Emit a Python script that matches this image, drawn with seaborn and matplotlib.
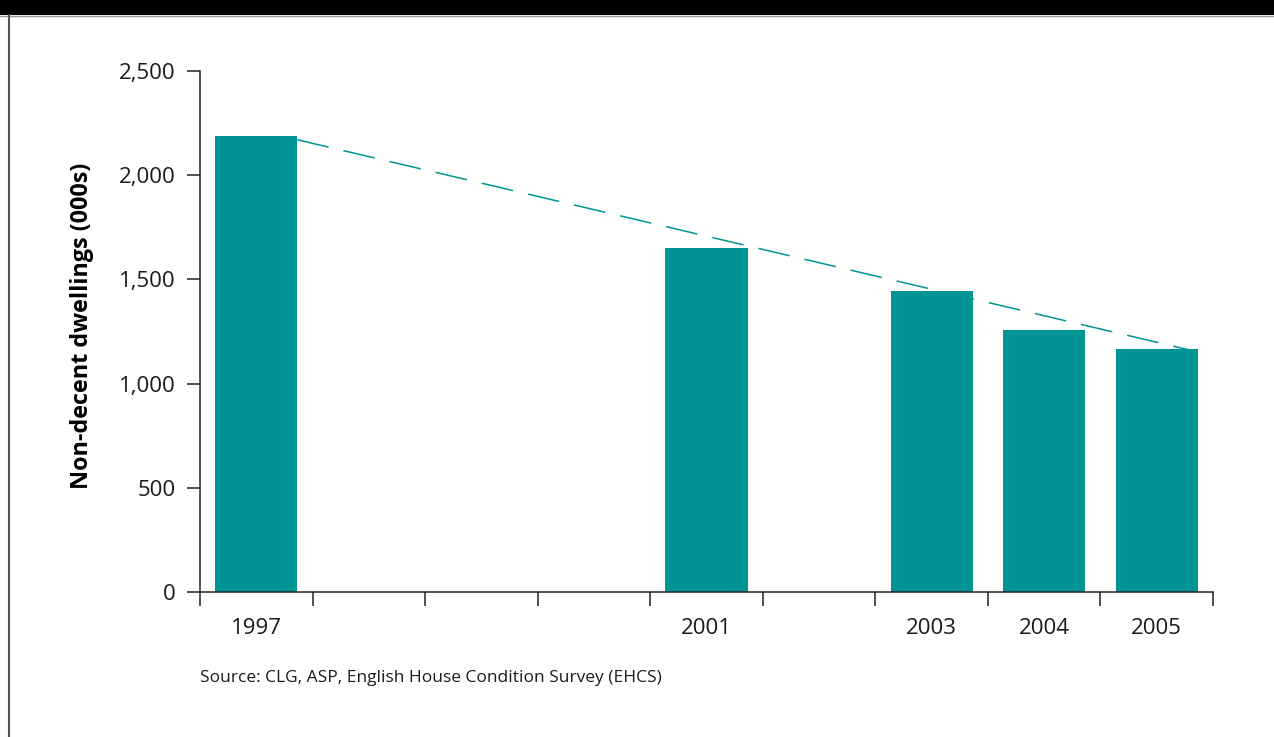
import matplotlib
matplotlib.use("Agg")
import matplotlib.pyplot as plt
from matplotlib.patches import Rectangle
from matplotlib.lines import Line2D
import seaborn as sns
import pandas as pd

# Data
years = [1997, 2001, 2003, 2004, 2005]
non_decent = [2188, 1651, 1444, 1257, 1166]

# dashed trend line (start at 1997 bar, end at 2005 bar)
trend_years = [1997, 2005]
trend_values = [2170, 1152]

year_ticks = list(range(1997, 2006))
source_text = "Source: CLG, ASP, English House Condition Survey (EHCS)"

TEAL = "#009494"
BAR_W = 0.73

sns.set_theme(style="white")
plt.rcParams["font.family"] = ["Open Sans", "DejaVu Sans"]

df = pd.DataFrame({"year": years, "dwellings": non_decent})

fig = plt.figure(figsize=(12.74, 7.37), dpi=100)
ax = fig.add_axes([200 / 1274, 1 - 592 / 737, 1013 / 1274, 521 / 737])

sns.barplot(data=df, x="year", y="dwellings", native_scale=True,
            width=BAR_W, color=TEAL, saturation=1, ax=ax)
for p in ax.patches:
    p.set_edgecolor("none")

# trend line from the right edge of the first bar to the right edge of the last
tx = [y + BAR_W / 2 for y in trend_years]
line, = ax.plot(tx, trend_values, color=TEAL, lw=1.1)
line.set_dashes((21, 10))

ax.set_xlim(1996.5, 2005.5)
ax.set_ylim(0, 2500)
ax.set_yticks([0, 500, 1000, 1500, 2000, 2500])
ax.set_yticklabels(["0", "500", "1,000", "1,500", "2,000", "2,500"])

# slot boundaries as tick marks, year labels in between
ax.set_xticks([y - 0.5 for y in year_ticks] + [2005.5])
ax.set_xticklabels([])
shown = {1997, 2001, 2003, 2004, 2005}
ax.set_xticks(year_ticks, minor=True)
ax.set_xticklabels([str(y) if y in shown else "" for y in year_ticks], minor=True)

ax.tick_params(axis="x", which="major", direction="out", length=10, width=1.1,
               color="#222222", bottom=True)
ax.tick_params(axis="x", which="minor", length=0, pad=19, labelsize=16,
               labelcolor="#1a1a1a", bottom=True)
ax.tick_params(axis="y", direction="out", length=9.5, width=1.1, color="#222222",
               pad=8, labelsize=16, labelcolor="#1a1a1a", left=True)

for s in ["top", "right"]:
    ax.spines[s].set_visible(False)
for s in ["left", "bottom"]:
    ax.spines[s].set_color("#222222")
    ax.spines[s].set_linewidth(1.1)

ax.set_xlabel("")
ax.set_ylabel("Non-decent dwellings (000s)", fontsize=16.8, fontweight="bold",
              color="black")
ax.yaxis.set_label_coords(-106 / 1013, 0.51)

fig.text(200 / 1274, 1 - 678 / 737, source_text, fontsize=12.5,
         color="#1a1a1a", va="center", ha="left")

# page frame: black header band and left border
fig.patches.append(Rectangle((0, 1 - 15 / 737), 1, 15 / 737, transform=fig.transFigure,
                             facecolor="black", edgecolor="none"))
fig.lines.append(Line2D([0, 1], [1 - 15.5 / 737] * 2, transform=fig.transFigure,
                        color="#999999", lw=1))
fig.lines.append(Line2D([8.5 / 1274] * 2, [0, 1 - 15 / 737], transform=fig.transFigure,
                        color="#555555", lw=1.5))

fig.savefig("out.png", dpi=100)
